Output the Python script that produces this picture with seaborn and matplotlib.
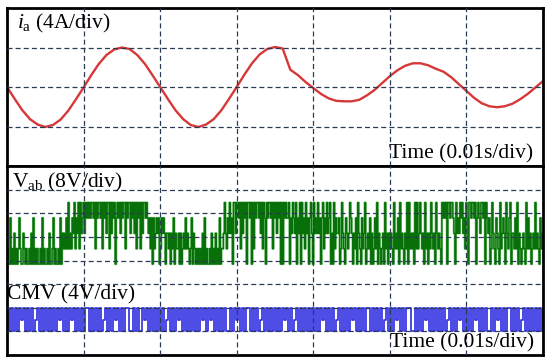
import numpy as np
import pandas as pd
import seaborn as sns
import matplotlib.pyplot as plt

# Phase current i_a [A], every 1 ms (0..70 ms)
ia_time_ms = list(range(0, 71))
ia_amps = [0.0, -1.2, -2.35, -3.25, -3.8, -4.05, -3.85, -3.3, -2.4, -1.25,
           -0.05, 1.2, 2.35, 3.25, 3.8, 4.0, 3.85, 3.25, 2.35, 1.2,
           0.0, -1.2, -2.35, -3.25, -3.85, -4.05, -3.8, -3.25, -2.35, -1.2,
           0.0, 1.25, 2.4, 3.3, 3.85, 4.05, 3.9, 1.75, 1.2, 0.5,
           -0.1, -0.7, -1.15, -1.4, -1.45, -1.45, -1.3, -0.85, -0.3, 0.4,
           1.1, 1.7, 2.15, 2.4, 2.4, 2.2, 1.85, 1.55, 1.0, 0.3,
           -0.4, -1.1, -1.65, -1.95, -2.05, -1.95, -1.7, -1.25, -0.7, -0.05,
           0.6]

# Line voltage V_ab: level held in each sample (536 samples over 70 ms)
vab_levels_div = [3.85, 4.5, 5.15, 5.8, 6.45]
vab_code = (
    "1003010201" "0131002101" "0010203010" "1001030100" "1020013010" "010302"
    "12131412" "132413"
    "2414234243"
    "4343443414" "3443414342" "4414243403" "4342434414" "3442434241" "4341424434"
    "3231303123" "2301323202"
    "2120213021" "1202012131" "2101302101"
    "0101020301" "0010201020" "10301"
    "1242132423" "04424"
    "4341424340" "4434041434" "4342414304" "3443414342" "4340404343"
    "3403243240" "3240423142" "3034204232" "4230341324" "2340204132"
    "2301421032" "1243202130" "42103"
    "1240121302" "0131402101" "2041202121" "0412130412" "1021404121"
    "2041412421" "2041202142" "1204212104" "3434044344"
    "3204232434" "2314304434" "4340343244" "34043"
    "2301421032" "1041232042" "13402"
    "2131402101" "2104131201" "2141210312" "1"
)

# Common-mode voltage: level held in each sample (268 samples over 70 ms)
cmv_levels_div = [1.0, 1.5, 2.0]
cmv_code = (
    "2020202120" "2020120202" "0202021202" "0212020202" "2020202012"
    "0202120202" "2002020212" "0202020201" "2020212020" "2020202120"
    "2120202020" "0202120202" "2020201202" "0202020212" "0201202020"
    "2020202120" "2020120202" "0212020202" "2020202012" "0202120202"
    "2002020212" "0202020201" "2020212020" "2021202020" "0202120202"
    "2020201202" "02020202"
)

sns.set_style("white")
plt.rcParams["font.family"] = ["Liberation Serif", "DejaVu Serif"]
plt.rcParams["mathtext.fontset"] = "custom"
plt.rcParams["mathtext.rm"] = "Liberation Serif"
plt.rcParams["mathtext.it"] = "Liberation Serif:italic"

ia_df = pd.DataFrame({"t": ia_time_ms, "i": ia_amps})
vab_df = pd.DataFrame({"t": np.linspace(0, 70, len(vab_code)),
                       "v": [vab_levels_div[int(c)] for c in vab_code]})
cmv_df = pd.DataFrame({"t": np.linspace(0, 70, len(cmv_code)),
                       "v": [cmv_levels_div[int(c)] for c in cmv_code]})

fig = plt.figure(figsize=(5.5, 3.63), dpi=100)
ax_top = fig.add_axes([7 / 550, 1 - 166 / 363, 536 / 550, 158 / 363])
ax_bot = fig.add_axes([7 / 550, 1 - 355 / 363, 536 / 550, 189 / 363])

grid_kw = dict(color="#2b3a55", linewidth=0.9, linestyle=(0, (4, 2.5)))

# top panel: phase current
sns.lineplot(data=ia_df, x="t", y="i", ax=ax_top, estimator=None, sort=False,
             color="#d63838", linewidth=1.7)
ax_top.set_xlim(0, 70)
ax_top.set_ylim(-8, 8)
ax_top.set_xticks(np.arange(10, 70, 10))
ax_top.set_yticks([-4, 0, 4])

# bottom panel: Vab and CMV
sns.lineplot(data=vab_df, x="t", y="v", ax=ax_bot, estimator=None, sort=False,
             drawstyle="steps-post", color="#6abd6a", linewidth=1.6)
sns.lineplot(data=vab_df, x="t", y="v", ax=ax_bot, estimator=None, sort=False,
             drawstyle="steps-post", color="#087008", linewidth=0.9)
sns.lineplot(data=cmv_df, x="t", y="v", ax=ax_bot, estimator=None, sort=False,
             drawstyle="steps-post", color="#3434e4", linewidth=1.25)
ax_bot.set_xlim(0, 70)
ax_bot.set_ylim(0, 8)
ax_bot.set_xticks(np.arange(10, 70, 10))
ax_bot.set_yticks(np.arange(1, 8))

for ax in (ax_top, ax_bot):
    ax.grid(True, **grid_kw)
    ax.set_axisbelow(False)
    ax.set_xlabel("")
    ax.set_ylabel("")
    ax.tick_params(length=0, labelbottom=False, labelleft=False)
    for sp in ax.spines.values():
        sp.set_visible(True)
        sp.set_color("black")
        sp.set_linewidth(2.0)

txt_kw = dict(fontsize=15.5, color="black", va="center")
ax_top.text(0.019, 0.899, r"$i_{\mathrm{a}}$ (4A/div)", transform=ax_top.transAxes,
            ha="left", **txt_kw)
ax_top.text(0.981, 0.075, "Time (0.01s/div)", transform=ax_top.transAxes,
            ha="right", **txt_kw)
ax_bot.text(0.009, 0.915, r"V$_{\mathrm{ab}}$ (8V/div)", transform=ax_bot.transAxes,
            ha="left", **txt_kw)
ax_bot.text(0.0, 0.317, "CMV (4V/div)", transform=ax_bot.transAxes,
            ha="left", **txt_kw)
ax_bot.text(0.983, 0.0635, "Time (0.01s/div)", transform=ax_bot.transAxes,
            ha="right", **txt_kw)

fig.savefig("out.png", dpi=100)
